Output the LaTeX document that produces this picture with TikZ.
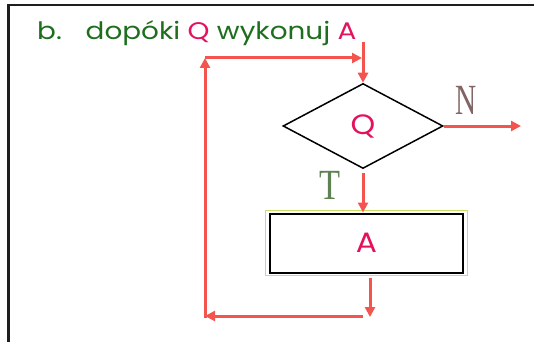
\documentclass[tikz,border=0pt]{standalone}
\usepackage{fontspec}
\usetikzlibrary{shapes.geometric,arrows.meta}
\newfontfamily\titlefont{Poppins}
\newfontfamily\letterfont{Liberation Serif}
\definecolor{lred}{RGB}{244,84,78}
\definecolor{pinkq}{RGB}{228,18,92}
\definecolor{dgreen}{RGB}{30,110,30}
\definecolor{lime}{RGB}{200,225,100}
\definecolor{ncol}{RGB}{130,100,100}
\definecolor{tcol}{RGB}{95,130,85}
\definecolor{framec}{RGB}{30,30,30}
\begin{document}
\begin{tikzpicture}[x=1pt,y=-1pt,
  redline/.style={draw=lred,line width=3pt},
  arr/.style={redline,-{Triangle[length=10pt,width=10pt]}},
  decision/.style={draw=black,line width=1.5pt,diamond,aspect=1.88,inner sep=0pt,
     minimum width=160pt,minimum height=85pt},
  actionbox/.style={draw=black,line width=2pt,rectangle,inner sep=0pt,
     minimum width=193pt,minimum height=59pt},
  bigletter/.style={inner sep=0pt,font=\titlefont\fontsize{28}{28}\selectfont,text=pinkq,xscale=1.12},
  letterlab/.style={inner sep=0pt,font=\letterfont\fontsize{43}{43}\selectfont}
]
\useasboundingbox (0,0) rectangle (534,342);
\fill[white] (0,0) rectangle (534,342);
% frame (top and left only)
\draw[framec,line width=2.5pt] (8.5,342) -- (8.5,5) -- (534,5);
% title
\node[anchor=base west,inner sep=0pt,font=\titlefont\fontsize{24}{24}\selectfont,text=dgreen,xscale=1.16] (title) at (37,39.5)
  {b.\hspace{12pt} dopóki \textcolor{pinkq}{Q} wykonuj \textcolor{pinkq}{A}};
% shapes
\node[decision] (q) at (363,126) {};
\node[bigletter] (qt) at (q.center) {Q};
\node[actionbox] (a) at (366.5,243) {};
\node[bigletter] (at) at (a.center) {A};
\draw[lime,line width=1.2pt] ([shift={(-3.5,-2)}]a.north west) rectangle ([shift={(3.5,2)}]a.south east);
% labels
\node[letterlab,text=ncol,xscale=0.68] (n) at (466,100) {N};
\node[letterlab,text=tcol,xscale=0.8] (t) at (330,185) {T};
% coordinates
\coordinate (entry) at (363,42);
\coordinate (nout) at (521,126);
\coordinate (abot) at (370,278);
\coordinate (aend) at (370,317);
\coordinate (bret) at (363,316);
\coordinate (bl) at (205,316);
\coordinate (blv) at (205,318);
\coordinate (tl) at (205,58);
\coordinate (tr) at (362,58);
% connectors
\draw[arr] (entry) -- (q.north);
\draw[arr] (q.east) -- (nout);
\draw[arr,shorten <=4pt] (q.south) -- (q.south |- a.north);
\draw[arr] (abot) -- (aend);
\draw[arr] (bret) -- (bl);
\draw[arr] (blv) -- (tl);
\draw[arr] (tl) -- (tr);
\end{tikzpicture}
\end{document}
